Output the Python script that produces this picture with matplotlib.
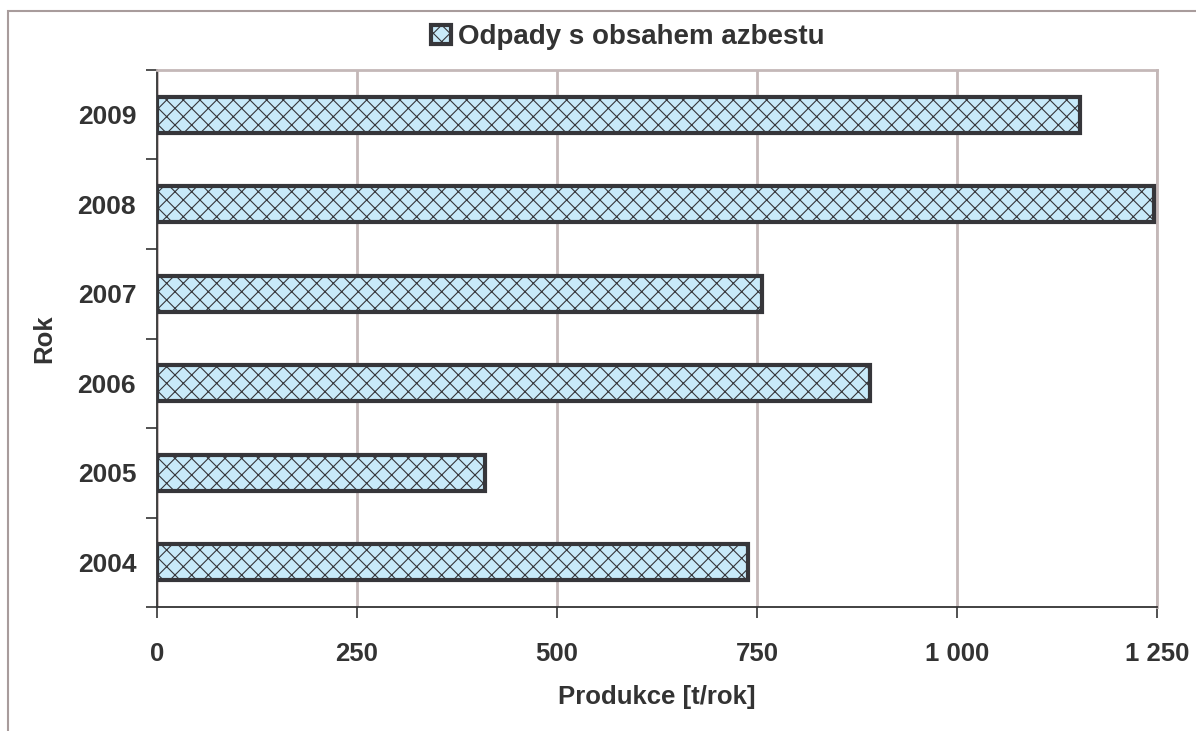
import matplotlib.pyplot as plt
from matplotlib.patches import Rectangle
from matplotlib.ticker import FixedLocator
import numpy as np

plt.rcParams["font.family"] = ["Liberation Sans", "DejaVu Sans"]
plt.rcParams["font.weight"] = "bold"
plt.rcParams["hatch.linewidth"] = 0.8

# data
years = ["2004", "2005", "2006", "2007", "2008", "2009"]
values = [739, 410, 891, 756, 1246, 1154]
x_ticks = [0, 250, 500, 750, 1000, 1250]
x_tick_labels = ["0", "250", "500", "750", "1 000", "1 250"]

text_color = "#333333"
grid_color = "#c4b8b8"

fig = plt.figure(figsize=(11.96, 7.31), dpi=100)
ax = fig.add_axes([157 / 1196, 1 - 607 / 731, 1000 / 1196, 537 / 731])

pos = np.arange(len(years))
bars = ax.barh(pos, values, height=0.4, color="#c8eaf9", edgecolor="#36363a",
               linewidth=3, hatch="xx", label="Odpady s obsahem azbestu", zorder=3)

ax.set_xlim(0, 1250)
ax.set_ylim(-0.5, len(years) - 0.5)

ax.set_xticks(x_ticks)
ax.set_xticklabels(x_tick_labels)
ax.set_yticks(pos)
ax.set_yticklabels(years)
ax.yaxis.set_minor_locator(FixedLocator(np.arange(-0.5, len(years), 1)))

ax.tick_params(axis="y", which="major", length=0, pad=15, labelsize=19, labelcolor=text_color)
ax.tick_params(axis="y", which="minor", length=8, width=1.2, color=text_color, direction="out")
ax.tick_params(axis="x", length=8, width=1.2, color=text_color, pad=17, labelsize=18.5,
               labelcolor=text_color)

ax.grid(axis="x", color=grid_color, linewidth=2, zorder=0)
ax.set_axisbelow(True)

for side in ["left", "bottom"]:
    ax.spines[side].set_color(text_color)
    ax.spines[side].set_linewidth(1.3)
for side in ["top", "right"]:
    ax.spines[side].set_color(grid_color)
    ax.spines[side].set_linewidth(2)

ax.set_xlabel("Produkce [t/rok]", fontsize=18.5, fontweight="bold", color=text_color,
              labelpad=14)
ax.set_ylabel("Rok", fontsize=18.5, fontweight="bold", color=text_color, labelpad=15)

leg = fig.legend(handles=[bars], loc="center", bbox_to_anchor=(628 / 1196, 1 - 37 / 731),
                 frameon=False, fontsize=20, handlelength=0.7, handleheight=0.7,
                 handletextpad=0.25, labelcolor=text_color)
for t in leg.get_texts():
    t.set_fontweight("bold")

# outer chart frame
fig.patches.append(Rectangle((8 / 1196, -0.05), 1.1, 1 - 11 / 731 + 0.05,
                             transform=fig.transFigure, fill=False,
                             edgecolor="#a89c9c", linewidth=1.5))

fig.savefig("out.png", dpi=100)
